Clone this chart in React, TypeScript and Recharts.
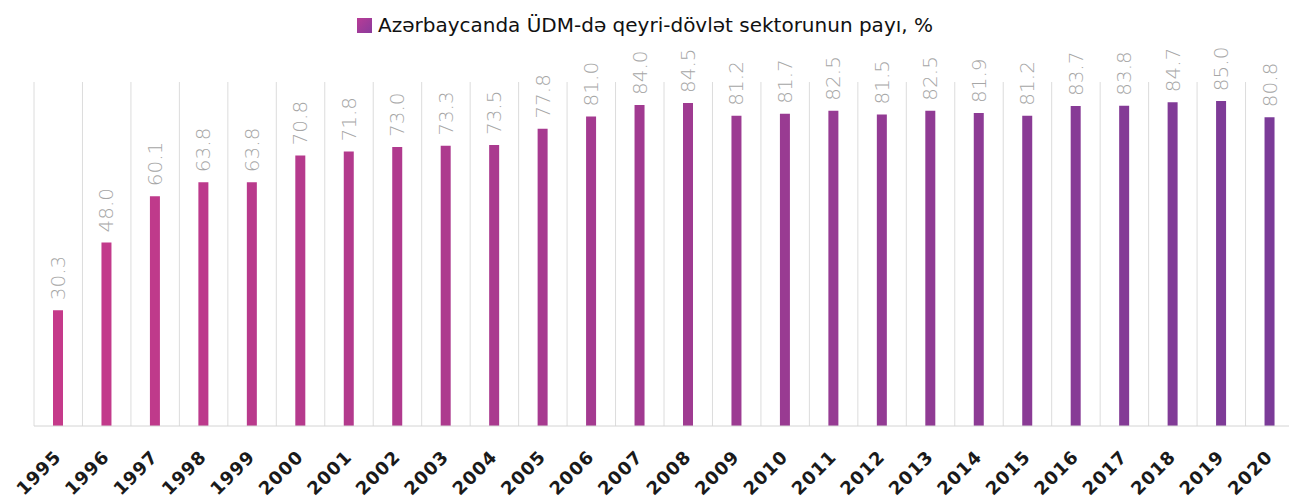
import { BarChart, Bar, XAxis, YAxis, CartesianGrid, LabelList, Cell } from 'recharts'

const years = [
  '1995', '1996', '1997', '1998', '1999', '2000', '2001', '2002', '2003', '2004', '2005', '2006', '2007',
  '2008', '2009', '2010', '2011', '2012', '2013', '2014', '2015', '2016', '2017', '2018', '2019', '2020',
]
const shares = [
  30.3, 48.0, 60.1, 63.8, 63.8, 70.8, 71.8, 73.0, 73.3, 73.5, 77.8, 81.0, 84.0,
  84.5, 81.2, 81.7, 82.5, 81.5, 82.5, 81.9, 81.2, 83.7, 83.8, 84.7, 85.0, 80.8,
]
const seriesName = 'Azərbaycanda ÜDM-də qeyri-dövlət sektorunun payı, %'

const data = years.map((year, i) => ({ year, share: shares[i] }))

// bars fade from magenta to purple, left to right
const startRgb = [197, 58, 138]
const endRgb = [123, 59, 152]
function barColor(i: number) {
  const t = i / (years.length - 1)
  const c = startRgb.map((s, k) => Math.round(s + (endRgb[k] - s) * t))
  return `rgb(${c[0]},${c[1]},${c[2]})`
}

const font = '"DejaVu Sans", "Open Sans", sans-serif'

function YearTick({ x, y, payload }: any) {
  const ax = x + 4
  const ay = y + 24
  return (
    <text
      x={ax}
      y={ay}
      transform={`rotate(-45, ${ax}, ${ay})`}
      textAnchor="end"
      fontSize={18}
      letterSpacing={1}
      fontWeight={700}
      fontFamily={font}
      fill="#1a1a1a"
    >
      {payload.value}
    </text>
  )
}

function ValueLabel({ x, y, width, value }: any) {
  const cx = x + width / 2
  const ty = y - 10
  return (
    <text
      x={cx}
      y={ty}
      transform={`rotate(-90, ${cx}, ${ty})`}
      textAnchor="start"
      dominantBaseline="central"
      fontSize={20}
      fontWeight={200}
      fontFamily={font}
      fill="#a6a6a6"
    >
      {Number(value).toFixed(1)}
    </text>
  )
}

export default function App() {
  return (
    <div style={{ position: 'absolute', left: 0, top: 0, width: 1296, height: 503, background: '#fff' }}>
      <div
        style={{
          position: 'absolute',
          left: 357,
          top: 13,
          display: 'flex',
          alignItems: 'center',
          whiteSpace: 'nowrap',
        }}
      >
        <span
          style={{
            width: 15,
            height: 15,
            marginRight: 6,
            background: 'linear-gradient(135deg, #b83c96, #8a3b9c)',
            display: 'inline-block',
          }}
        />
        <span style={{ fontFamily: font, fontSize: 20, color: '#111' }}>{seriesName}</span>
      </div>
      <BarChart
        width={1296}
        height={503}
        data={data}
        margin={{ top: 82, right: 2, left: 34, bottom: 0 }}
        barCategoryGap={0}
      >
        <CartesianGrid
          horizontal={false}
          stroke="#dcdcdc"
          verticalCoordinatesGenerator={({ offset }: any) =>
            years.map((_, i) => offset.left + (i * offset.width) / years.length)
          }
        />
        <XAxis
          dataKey="year"
          height={77}
          interval={0}
          tick={<YearTick />}
          tickLine={false}
          axisLine={{ stroke: '#d4d4d4' }}
        />
        <YAxis hide domain={[0, 90]} />
        <Bar dataKey="share" name={seriesName} barSize={10} isAnimationActive={false}>
          {data.map((d, i) => (
            <Cell key={d.year} fill={barColor(i)} />
          ))}
          <LabelList dataKey="share" content={<ValueLabel />} />
        </Bar>
      </BarChart>
    </div>
  )
}
